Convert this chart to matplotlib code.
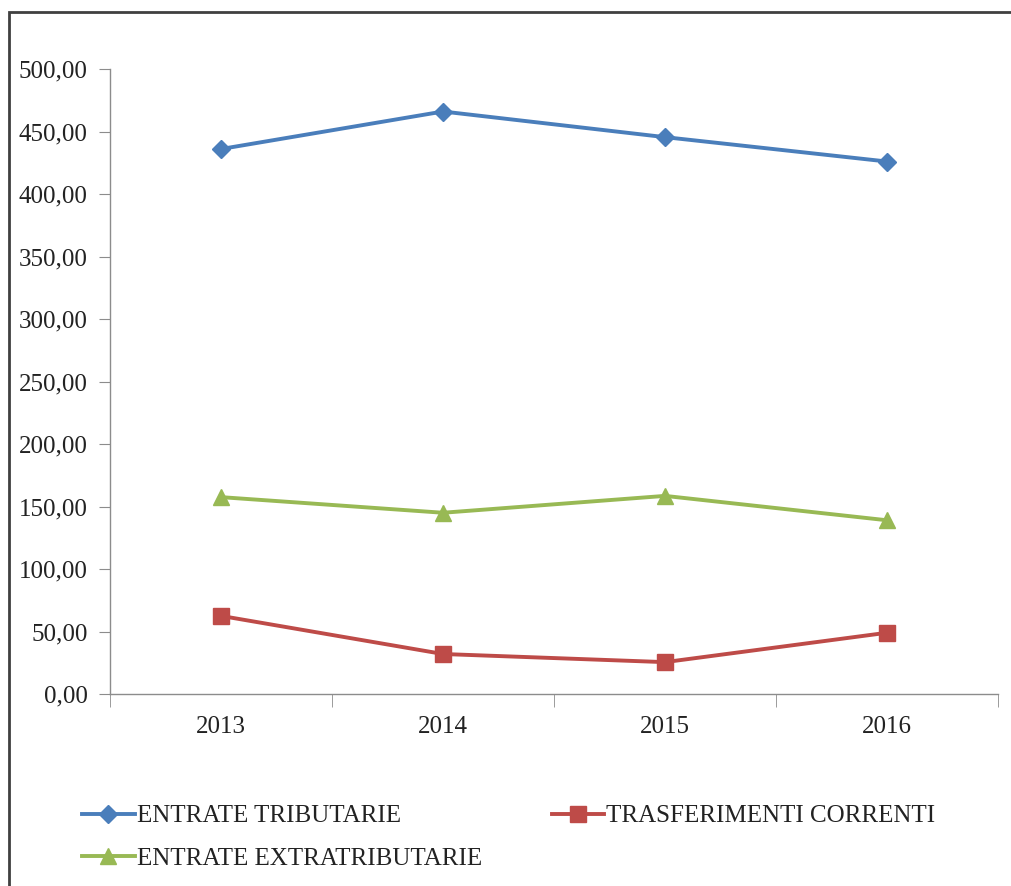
import matplotlib.pyplot as plt
from matplotlib.patches import Rectangle
from matplotlib.ticker import FuncFormatter, FixedLocator

# Dati
anni = ['2013', '2014', '2015', '2016']
entrate_tributarie = [436.0, 466.0, 445.5, 426.0]
trasferimenti_correnti = [62.5, 32.0, 25.5, 49.0]
entrate_extratributarie = [157.5, 145.0, 158.5, 139.0]

plt.rcParams['font.family'] = ['Liberation Serif', 'DejaVu Serif']

fig = plt.figure(figsize=(10.11, 8.86), dpi=100)
ax = fig.add_axes([0.1088, 0.2167, 0.8783, 0.7054])

x = list(range(len(anni)))
l1, = ax.plot(x, entrate_tributarie, color='#4A7EBB', lw=2.8, marker='D', ms=9,
              label='ENTRATE TRIBUTARIE')
l2, = ax.plot(x, trasferimenti_correnti, color='#BE4B48', lw=2.8, marker='s', ms=11,
              label='TRASFERIMENTI CORRENTI')
l3, = ax.plot(x, entrate_extratributarie, color='#98B954', lw=2.8, marker='^', ms=11,
              label='ENTRATE EXTRATRIBUTARIE')

ax.set_xlim(-0.5, len(anni) - 0.5)
ax.set_ylim(0, 500)
ax.set_yticks(range(0, 501, 50))
ax.yaxis.set_major_formatter(FuncFormatter(lambda v, p: f'{v:.2f}'.replace('.', ',')))
ax.set_xticks(x)
ax.set_xticklabels(anni)
ax.xaxis.set_minor_locator(FixedLocator([i + 0.5 for i in range(-1, len(anni))]))

for s in ['top', 'right']:
    ax.spines[s].set_visible(False)
for s in ['left', 'bottom']:
    ax.spines[s].set_color('#8c8c8c')
    ax.spines[s].set_linewidth(1.0)

ax.tick_params(axis='y', length=8, color='#8c8c8c', labelsize=18, pad=8, labelcolor='#222222')
ax.tick_params(axis='x', which='major', length=0, labelsize=18, pad=16, labelcolor='#222222')
ax.tick_params(axis='x', which='minor', length=9, color='#8c8c8c')

# Legenda (ordine per righe)
leg = fig.legend(handles=[l1, l3, l2], ncol=2, loc='upper left',
                 bbox_to_anchor=(0.059, 0.117), frameon=False, fontsize=18,
                 handlelength=2.1, handletextpad=0.08, columnspacing=2.8,
                 labelspacing=0.8, labelcolor='#222222')

# Cornice
fig.patches.append(Rectangle((0.009, -0.05), 1.1, 1.036, transform=fig.transFigure,
                             fill=False, edgecolor='#404040', lw=2.0))

fig.savefig('out.png', dpi=100)
